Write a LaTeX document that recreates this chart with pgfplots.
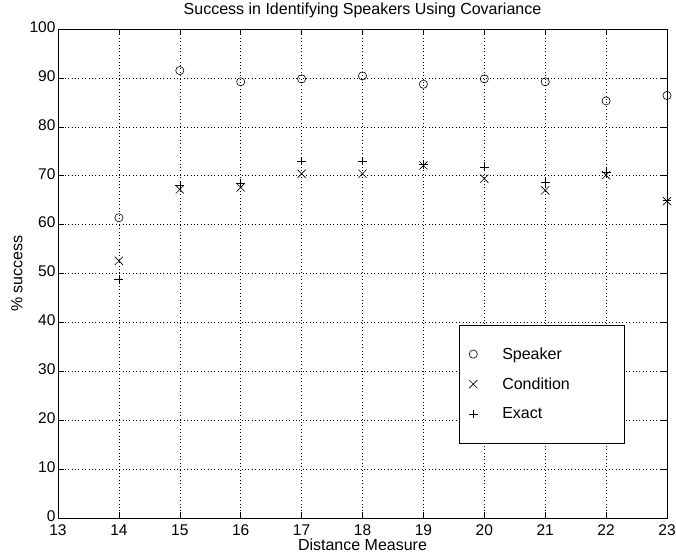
\documentclass[border=0pt]{standalone}
\usepackage{fontspec}
\setmainfont{Liberation Sans}
\usepackage{pgfplots}
\pgfplotsset{compat=1.18}
\begin{document}
\begin{tikzpicture}
\begin{axis}[
  scale only axis,
  width=609bp, height=489bp,
  xmin=13, xmax=23, ymin=0, ymax=100,
  xtick={13,...,23}, ytick={0,10,...,100},
  /pgf/number format/assume math mode=true,
  tick label style={font=\fontsize{15.5bp}{18bp}\selectfont},
  yticklabel style={xshift=1bp, yshift=2bp},
  xticklabel style={yshift=-3.5bp},
  major tick length=6bp,
  tick style={black, line width=0.5bp},
  axis line style={black, line width=0.5bp},
  grid=major,
  grid style={black, line width=0.45bp, dash pattern=on 0.8bp off 2.6bp},
  title={Success in Identifying Speakers Using Covariance},
  title style={at={(axis description cs:0.5,1)}, anchor=base, yshift=9bp, font=\fontsize{16bp}{19bp}\selectfont},
  xlabel={Distance Measure},
  xlabel style={at={(axis description cs:0.5,0)}, anchor=base, yshift=-32.5bp, font=\fontsize{16bp}{19bp}\selectfont},
  ylabel={\% success},
  ylabel style={at={(axis description cs:-0.0583,0.5)}, anchor=base, rotate=0, font=\fontsize{16bp}{19bp}\selectfont},
  legend style={at={(axis cs:19.585,39.5)}, anchor=north west, draw=black, line width=0.5bp,
    inner xsep=0pt, inner ysep=14bp, column sep=0bp, row sep=0bp,
    nodes={inner sep=0pt}, font=\fontsize{16bp}{19bp}\selectfont},
  legend cell align=left,
  legend image code/.code={\path[draw=none] (0bp,-15bp) rectangle (43bp,15bp); \draw[#1] plot coordinates {(14bp,0bp)};},
]
\addplot[only marks, mark=o, mark size=4.1bp, black, line width=0.6bp] coordinates {
(14,61.4) (15,91.5) (16,89.2) (17,89.8) (18,90.4) (19,88.7) (20,89.8) (21,89.2) (22,85.3) (23,86.4)};
\addlegendentry{\makebox[122bp][l]{Speaker}}
\addplot[only marks, mark=x, mark size=5.8bp, black, line width=0.6bp] coordinates {
(14,52.6) (15,67.2) (16,67.6) (17,70.4) (18,70.4) (19,72.1) (20,69.4) (21,67.0) (22,70.1) (23,64.8)};
\addlegendentry{\makebox[122bp][l]{Condition}}
\addplot[only marks, mark=+, mark size=4.4bp, black, line width=0.6bp] coordinates {
(14,48.8) (15,68.0) (16,68.5) (17,73.0) (18,73.0) (19,72.3) (20,71.8) (21,68.6) (22,70.6) (23,65.0)};
\addlegendentry{\makebox[122bp][l]{Exact}}
\end{axis}
\pgfresetboundingbox
\path[use as bounding box] (-58bp,-37bp) rectangle (618bp,518bp);
\end{tikzpicture}
\end{document}
